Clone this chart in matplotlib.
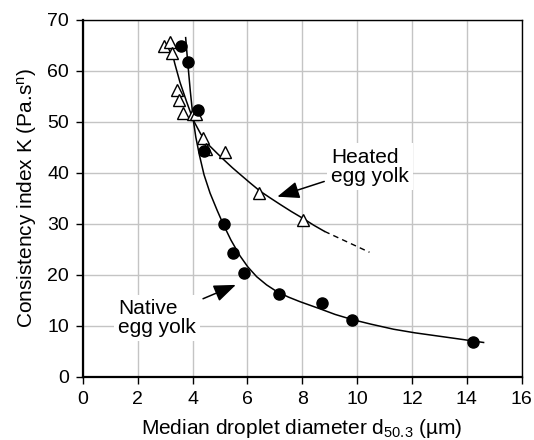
import numpy as np
import matplotlib as mpl
import matplotlib.pyplot as plt

mpl.rcParams['font.family'] = ['Liberation Sans', 'DejaVu Sans']
mpl.rcParams['mathtext.default'] = 'regular'

# measured points (median droplet diameter in um, consistency index K)
native_d = [3.57, 3.84, 4.19, 4.42, 5.15, 5.49, 5.88, 7.14, 8.71, 9.82, 14.22]
native_k = [64.8, 61.7, 52.4, 44.3, 29.9, 24.2, 20.3, 16.3, 14.5, 11.1, 6.7]
heated_d = [2.96, 3.18, 3.27, 3.44, 3.49, 3.66, 4.03, 4.12, 4.37, 4.51, 5.17, 6.43, 8.04]
heated_k = [64.8, 65.7, 63.5, 56.2, 54.3, 51.8, 51.5, 51.5, 46.9, 44.6, 44.1, 36.1, 30.8]

# trend lines
native_fit_d = [3.75, 3.82, 3.92, 4.03, 4.12, 4.25, 4.42, 4.64, 4.9, 5.12, 5.4, 5.73,
                6.02, 6.34, 6.7, 7.07, 7.5, 7.92, 8.65, 9.2, 9.82, 10.5, 11.33, 12.1,
                12.9, 13.7, 14.61]
native_fit_k = [66.5, 62.0, 56.0, 50.3, 47.0, 43.5, 39.6, 36.0, 32.6, 29.9, 26.8, 23.7,
                21.5, 19.6, 18.0, 16.7, 15.6, 14.7, 13.3, 12.2, 11.2, 10.3, 9.3, 8.6,
                8.0, 7.4, 6.7]
heated_fit_d = [3.18, 3.35, 3.54, 3.78, 4.03, 4.3, 4.6, 4.9, 5.17, 5.45, 5.73, 6.1,
                6.46, 6.82, 7.19, 7.6, 8.04, 8.42, 8.81]
heated_fit_k = [65.4, 61.5, 57.8, 54.0, 50.3, 47.6, 45.4, 43.8, 42.4, 41.0, 39.7, 38.0,
                36.4, 35.1, 33.8, 32.4, 31.0, 29.7, 28.5]
heated_ext_d = [8.81, 10.45]
heated_ext_k = [28.5, 24.4]

fig = plt.figure(figsize=(5.34, 4.40), dpi=100)
ax = fig.add_axes([0.155, 0.144, 0.822, 0.811])

ax.plot(native_fit_d, native_fit_k, color='k', lw=1.1, zorder=3)
ax.plot(heated_fit_d, heated_fit_k, color='k', lw=1.1, zorder=3)
ax.plot(heated_ext_d, heated_ext_k, color='k', lw=1.0, ls=(0, (4, 3)), zorder=3)

ax.plot(heated_d, heated_k, ls='none', marker='^', ms=9, mfc='white', mec='k', mew=1.0, zorder=4)
ax.plot(native_d, native_k, ls='none', marker='o', ms=8, mfc='k', mec='k', zorder=5)

ax.set_xlim(0, 16)
ax.set_ylim(0, 70)
ax.set_xticks(np.arange(0, 17, 2))
ax.set_yticks(np.arange(0, 71, 10))
ax.grid(True, color='#c4c4c4', lw=1.0)
ax.set_axisbelow(True)
ax.tick_params(labelsize=14, length=5, width=1, direction='out', pad=5)
for s in ['left', 'bottom']:
    ax.spines[s].set_linewidth(1.6)
for s in ['top', 'right']:
    ax.spines[s].set_linewidth(1.0)

ax.set_xlabel('Median droplet diameter d$_{50.3}$ (\u00b5m)', fontsize=15, labelpad=7)
ax.set_ylabel('Consistency index K (Pa.s$^{n}$)', fontsize=15, labelpad=6)

box = dict(facecolor='white', edgecolor='none', pad=3)
ax.annotate('Heated\negg yolk', xy=(7.09, 35.3), xytext=(9.05, 41.2),
            fontsize=15, ha='left', va='center', linespacing=1.0, bbox=box, zorder=6,
            arrowprops=dict(arrowstyle='-|>,head_length=0.9,head_width=0.35',
                            color='k', lw=1.1, shrinkA=2, shrinkB=0))
ax.annotate('Native\negg yolk', xy=(5.58, 18.0), xytext=(1.3, 11.5),
            fontsize=15, ha='left', va='center', linespacing=1.0, bbox=box, zorder=6,
            arrowprops=dict(arrowstyle='-|>,head_length=0.9,head_width=0.35',
                            color='k', lw=1.1, shrinkA=2, shrinkB=0))

plt.savefig('out.png', dpi=100)
